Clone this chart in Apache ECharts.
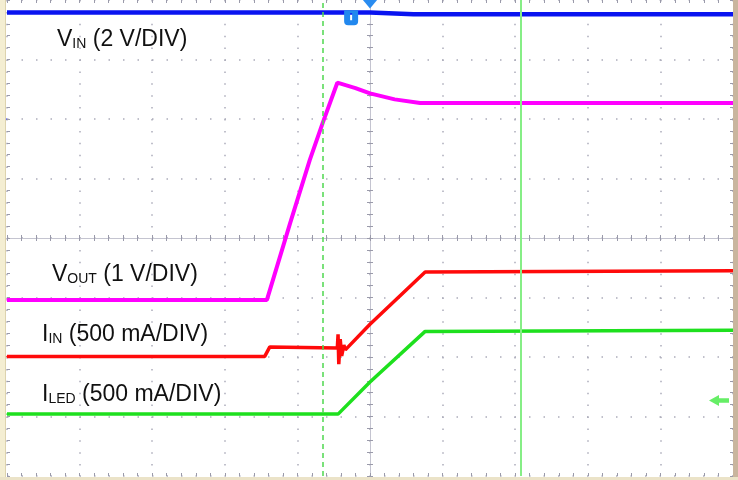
<!DOCTYPE html>
<html>
<head>
<meta charset="utf-8">
<script src="https://cdn.jsdelivr.net/npm/echarts@6/dist/echarts.min.js"></script>
<style>
  html, body { margin: 0; padding: 0; background: #fff; }
  #main { width: 738px; height: 480px; }
</style>
</head>
<body>
<div id="main"></div>
<script>
// scope screen: 10 x 8 divisions, centre of the screen is (0, 0)
const vinData = [[-5, 3.79], [0, 3.79], [0.6, 3.76], [5, 3.76]]
const voutData = [[-5, -1.04], [-1.42, -1.04], [-1.1, 0.25], [-0.83, 1.31], [-0.65, 1.94],
  [-0.45, 2.61], [-0.2, 2.52], [0, 2.43], [0.34, 2.33], [0.69, 2.27], [5, 2.27]]
const iinData = [[-5, -1.99], [-1.45, -1.99], [-1.38, -1.83], [-0.45, -1.85], [-0.44, -1.62],
  [-0.43, -2.12], [-0.41, -1.7], [-0.39, -1.98], [-0.36, -1.8], [-0.34, -1.88],
  [0, -1.45], [0.76, -0.57], [5, -0.55]]
const iledData = [[-5, -2.96], [-0.44, -2.96], [0, -2.42], [0.76, -1.57], [5, -1.55]]

// channel ground markers (left edge) and cursors
const groundVin = 2.0
const groundVout = -1.04
const groundIin = -1.99
const groundIled = -2.96
const cursorDashed = -0.65
const cursorSolid = 2.07
const triggerMarkerX = -0.26
const triggerMarkerY = 3.7
const arrowRightY = -2.73

// channel captions: [main, subscript, rest]
const labelVin = ['V', 'IN', ' (2 V/DIV)']
const labelVout = ['V', 'OUT', ' (1 V/DIV)']
const labelIin = ['I', 'IN', ' (500 mA/DIV)']
const labelIled = ['I', 'LED', ' (500 mA/DIV)']

const FONT = '"Liberation Sans", Arial, sans-serif'
const mainSize = 23
const subSize = 14

const ctx = document.createElement('canvas').getContext('2d')
function textWidth(str, size) {
  ctx.font = size + 'px ' + FONT
  return ctx.measureText(str).width
}

// caption built from three text pieces so the subscript sits a bit lower
function caption(parts, left, baseline) {
  const w0 = textWidth(parts[0], mainSize)
  const w1 = textWidth(parts[1], subSize)
  const mid = (size, base) => base - size * 0.35
  return [
    { type: 'text', x: left, y: mid(mainSize, baseline), z: 50,
      style: { text: parts[0], font: mainSize + 'px ' + FONT, fill: '#111', textVerticalAlign: 'middle' } },
    { type: 'text', x: left + w0, y: mid(subSize, baseline + 1.5), z: 50,
      style: { text: parts[1], font: subSize + 'px ' + FONT, fill: '#111', textVerticalAlign: 'middle' } },
    { type: 'text', x: left + w0 + w1, y: mid(mainSize, baseline), z: 50,
      style: { text: parts[2], font: mainSize + 'px ' + FONT, fill: '#111', textVerticalAlign: 'middle' } },
  ]
}

function trace(name, data, color, width, ground) {
  return {
    name: name,
    type: 'line',
    data: data,
    showSymbol: false,
    z: 3,
    lineStyle: { color: color, width: width },
    itemStyle: { color: color },
    markPoint: {
      symbol: 'triangle',
      symbolSize: [7, 7],
      symbolRotate: -90,
      symbolOffset: [-4, 0],
      itemStyle: { color: '#fff', borderColor: color, borderWidth: 1 },
      label: { show: false },
      data: [{ coord: [-5, ground] }],
    },
  }
}

const tickColor = '#9a9aaa'
function axis(dim, pos, onZero, inside, withSplit) {
  const isX = dim === 'x'
  return {
    type: 'value',
    min: isX ? -5 : -4,
    max: isX ? 5 : 4,
    interval: 1,
    position: pos,
    axisLine: { show: onZero, onZero: onZero, lineStyle: { color: '#c4c4d0', width: 1 } },
    axisTick: { show: true, inside: inside, length: 3, lineStyle: { color: tickColor } },
    minorTick: { show: true, splitNumber: 5, length: 3, lineStyle: { color: tickColor } },
    axisLabel: { show: false },
    splitLine: {
      show: withSplit,
      lineStyle: { color: '#acacba', width: 1.5, type: isX ? [1.5, 10.4] : [1.5, 13.0] },
    },
  }
}

const chart = echarts.init(document.getElementById('main'))
const option = {
  animation: false,
  backgroundColor: '#fff',
  grid: { left: 7, right: 5, top: 0, bottom: 4 },
  xAxis: [
    axis('x', 'bottom', true, false, true),
    axis('x', 'top', true, false, false),
    axis('x', 'top', false, true, false),
    axis('x', 'bottom', false, true, false),
  ],
  yAxis: [
    axis('y', 'left', true, false, true),
    axis('y', 'right', true, false, false),
    axis('y', 'left', false, true, false),
    axis('y', 'right', false, true, false),
  ],
  series: [
    {
      name: 'cursors',
      type: 'line',
      data: [],
      z: 4,
      markLine: {
        silent: true,
        symbol: 'none',
        label: { show: false },
        data: [
          { xAxis: cursorDashed, lineStyle: { color: '#4fd84f', width: 1.5, type: [5, 4] } },
          { xAxis: cursorSolid, lineStyle: { color: '#86ee86', width: 2, type: 'solid' } },
        ],
      },
    },
    trace('VIN', vinData, '#0a14f0', 4.5, groundVin),
    trace('VOUT', voutData, '#ff00ff', 4, groundVout),
    trace('IIN', iinData, '#ff0a0a', 3.5, groundIin),
    trace('ILED', iledData, '#1ee01e', 3.5, groundIled),
    {
      name: 'markers',
      type: 'line',
      data: [],
      z: 6,
      markPoint: {
        label: { show: false },
        data: [
          { coord: [0, 4], symbol: 'triangle', symbolRotate: 180, symbolSize: [15, 9],
            symbolOffset: [0, 4], itemStyle: { color: '#2a8cf0' } },
          { coord: [triggerMarkerX, triggerMarkerY],
            symbol: 'path://M0,0 H14 V11 Q14,15 10,15 H4 Q0,15 0,11 Z M6,3 V10 H8 V3 Z',
            symbolSize: [14, 15], itemStyle: { color: '#2288ee' } },
          { coord: [5, arrowRightY],
            symbol: 'path://M0,5 L9,0 L9,3 L18,3 L18,7 L9,7 L9,10 Z',
            symbolSize: [20, 11], symbolOffset: [-14, 0], itemStyle: { color: '#66ee66' } },
        ],
      },
    },
  ],
  graphic: [
    { type: 'rect', shape: { x: 0, y: 0, width: 5, height: 480 }, style: { fill: '#f4eed2' }, z: 40 },
    { type: 'rect', shape: { x: 5, y: 0, width: 1, height: 480 }, style: { fill: '#ddd3ae' }, z: 40 },
    { type: 'rect', shape: { x: 733, y: 0, width: 5, height: 480 }, style: { fill: '#c9b59e' }, z: 40 },
    { type: 'rect', shape: { x: 0, y: 477, width: 738, height: 3 }, style: { fill: '#ebe3c8' }, z: 40 },
  ]
    .concat(caption(labelVin, 57, 48))
    .concat(caption(labelVout, 52, 283))
    .concat(caption(labelIin, 42, 343))
    .concat(caption(labelIled, 42, 403)),
}
option && chart.setOption(option)
</script>
</body>
</html>
